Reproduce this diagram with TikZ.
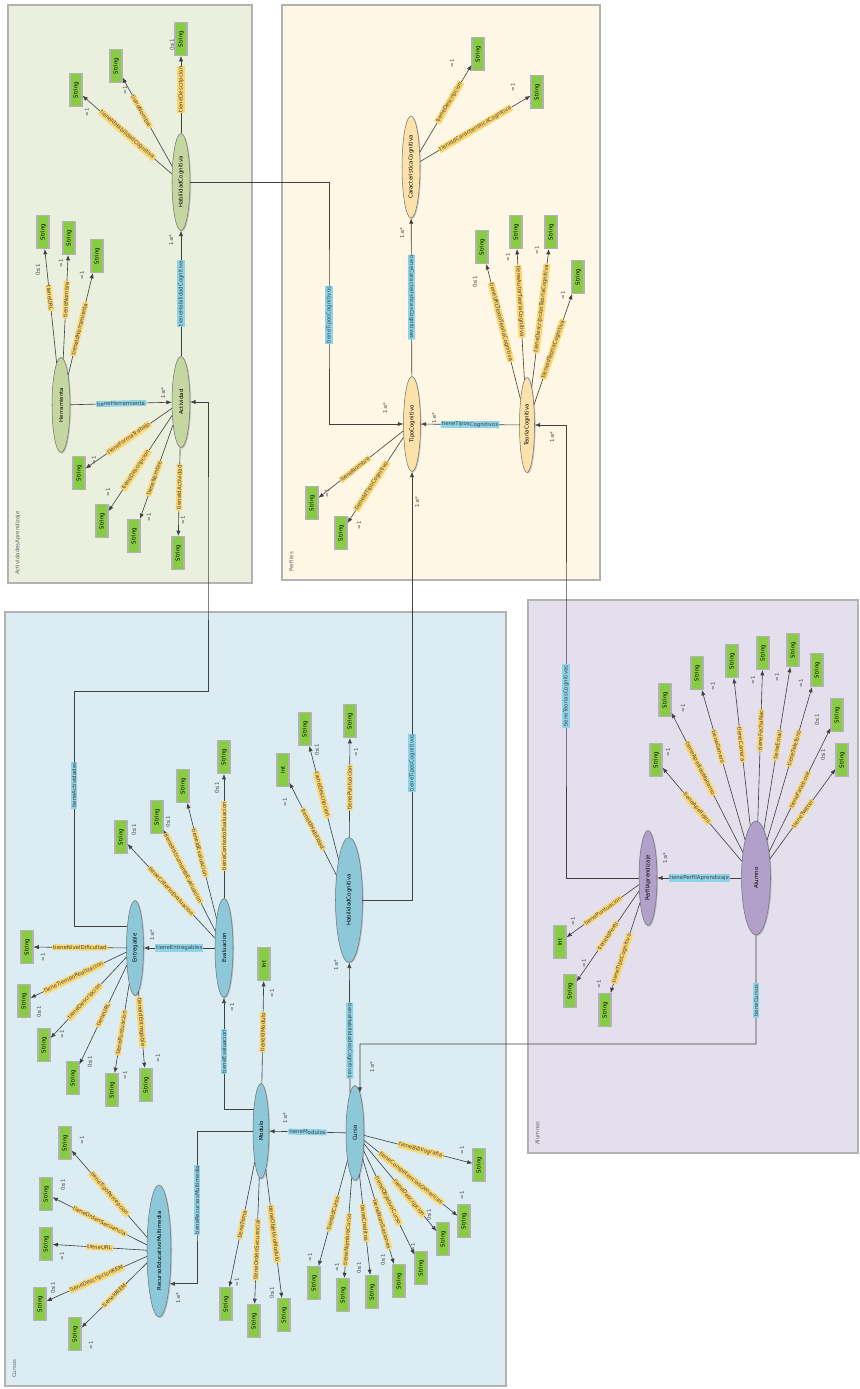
\documentclass[tikz,border=0pt]{standalone}
\usepackage{fontspec}
\setmainfont{DejaVu Sans}
\usetikzlibrary{arrows.meta, positioning, shapes.geometric, shadows}
\definecolor{actbg}{RGB}{234, 239, 222}
\definecolor{perbg}{RGB}{254, 247, 229}
\definecolor{curbg}{RGB}{219, 236, 242}
\definecolor{alubg}{RGB}{228, 223, 236}
\definecolor{actcls}{RGB}{197, 214, 160}
\definecolor{percls}{RGB}{250, 226, 170}
\definecolor{curcls}{RGB}{140, 200, 216}
\definecolor{alucls}{RGB}{176, 160, 202}
\definecolor{dtgreen}{RGB}{136, 204, 68}
\definecolor{propyellow}{RGB}{252, 214, 110}
\definecolor{relblue}{RGB}{142, 212, 232}
\newcommand{\ontofont}{\fontsize{3.1}{3.6}\selectfont}

\begin{document}
\begin{tikzpicture}[
  x=0.02cm, y=-0.02cm,
  region/.style={draw=black!30, line width=0.8pt},
  cls/.style={ellipse, rotate=90, draw=black!55, line width=0.3pt,
               minimum width=1.9cm, minimum height=0.36cm, inner sep=0pt,
               font=\ontofont,
               drop shadow={shadow xshift=0.6pt, shadow yshift=-0.6pt, opacity=0.4}},
  clsA/.style={cls, fill=actcls},
  clsP/.style={cls, fill=percls},
  clsC/.style={cls, fill=curcls},
  clsU/.style={cls, fill=alucls},
  dt/.style={rectangle, rotate=90, fill=dtgreen, draw=black!30, line width=0.6pt,
             minimum width=0.66cm, minimum height=0.24cm, inner sep=0pt,
             font=\ontofont},
  arr/.style={-{Latex[length=3pt, width=2.4pt]}, line width=0.35pt, color=black!75},
  prop/.style={fill=propyellow, font=\ontofont, inner sep=0.5pt, sloped, pos=0.57},
  rel/.style={fill=relblue, font=\ontofont, inner sep=0.5pt},
  card/.style={font=\ontofont, rotate=90, text=black!70, inner sep=0pt},
  area/.style={font=\ontofont, rotate=90, text=black!60, anchor=north west}
]
  \useasboundingbox (0,0) rectangle (859,1389);
  \fill[white] (0,0) rectangle (859,1389);

  % regions
  \filldraw[region, fill=actbg] (8,5) rectangle (252,583);
  \filldraw[region, fill=perbg] (282,5) rectangle (600,580);
  \filldraw[region, fill=alubg] (528,600) rectangle (858,1153);
  \filldraw[region, fill=curbg] (5,612) rectangle (506,1386);
  \node[area] (lblAct) at (9,581)    {ActividadesAprendizaje};
  \node[area] (lblPer) at (283,578)  {Perfiles};
  \node[area] (lblAlu) at (529,1151) {Alumnos};
  \node[area] (lblCur) at (6,1384)   {Cursos};

  % ActividadesAprendizaje
  \node[clsA, minimum width=1.94cm] (habA) at (181,182) {HabilidadCognitiva};
  \node[clsA, minimum width=1.82cm] (act)  at (181,402) {Actividad};
  \node[clsA] (herr) at (61,405) {Herramienta};
  \node[dt] (habA1) at (76,90)   {String};
  \node[dt] (habA2) at (116,66)  {String};
  \node[dt] (habA3) at (181,39)  {String};
  \node[dt] (herr1) at (43,232)  {String};
  \node[dt] (herr2) at (69,238)  {String};
  \node[dt] (herr3) at (97,256)  {String};
  \node[dt] (act1)  at (79,473)  {String};
  \node[dt] (act2)  at (102,521) {String};
  \node[dt] (act3)  at (134,536) {String};
  \node[dt] (act4)  at (178,553) {String};

  % Perfiles
  \node[clsP, minimum width=2.04cm] (carac) at (411,167) {CaracteristicaCognitiva};
  \node[clsP, minimum height=0.34cm] (tipo) at (412,424) {TipoCognitivo};
  \node[clsP, minimum height=0.3cm]  (teo)  at (527,425) {TeoriaCognitiva};
  \node[dt] (carac1) at (478,54)  {String};
  \node[dt] (carac2) at (537,92)  {String};
  \node[dt] (tipo1)  at (312,503) {String};
  \node[dt] (tipo2)  at (341,533) {String};
  \node[dt] (teo1)   at (482,247) {String};
  \node[dt] (teo2)   at (516,232) {String};
  \node[dt] (teo3)   at (551,232) {String};
  \node[dt] (teo4)   at (578,277) {String};

  % Alumnos
  \node[clsU] (perf) at (648,878) {PerfilAprendizaje};
  \node[clsU, minimum width=2.28cm, minimum height=0.58cm] (alu) at (756,878) {Alumno};
  \node[dt] (alu1) at (656,760) {String};
  \node[dt] (alu2) at (665,700) {String};
  \node[dt] (alu3) at (697,673) {String};
  \node[dt] (alu4) at (732,661) {String};
  \node[dt] (alu5) at (763,653) {String};
  \node[dt] (alu6) at (793,650) {String};
  \node[dt] (alu7) at (817,670) {String};
  \node[dt] (alu8) at (837,715) {String};
  \node[dt] (alu9) at (842,760) {String};
  \node[dt] (perf1) at (560,942)  {Int};
  \node[dt] (perf2) at (570,991)  {String};
  \node[dt] (perf3) at (605,1010) {String};

  % Cursos
  \node[clsC] (curso) at (355,1133) {Curso};
  \node[clsC, minimum height=0.32cm] (mod) at (261,1131) {Modulo};
  \node[clsC, minimum width=1.98cm] (eva) at (224,948) {Evaluacion};
  \node[clsC, minimum height=0.34cm] (ent) at (135,948) {Entregable};
  \node[clsC, minimum width=2.5cm, minimum height=0.54cm] (habC) at (349,900) {HabilidadCognitiva};
  \node[clsC, minimum width=2.64cm, minimum height=0.48cm] (rem) at (159,1251) {RecursoEducativoMultimedia};
  \node[dt] (habC1) at (283,770) {Int};
  \node[dt] (habC2) at (305,729) {String};
  \node[dt] (habC3) at (350,721) {String};
  \node[dt] (modI)  at (264,964) {Int};
  \node[dt] (mod1)  at (226,1304) {String};
  \node[dt] (mod2)  at (254,1321) {String};
  \node[dt] (mod3)  at (284,1315) {String};
  \node[dt] (eva1)  at (121,837) {String};
  \node[dt] (eva2)  at (157,817) {String};
  \node[dt] (eva3)  at (183,786) {String};
  \node[dt] (eva4)  at (224,757) {String};
  \node[dt] (ent1)  at (27,947)   {String};
  \node[dt] (ent2)  at (24,1001)  {String};
  \node[dt] (ent3)  at (44,1045)  {String};
  \node[dt] (ent4)  at (73,1078)  {String};
  \node[dt] (ent5)  at (112,1090) {String};
  \node[dt] (ent6)  at (146,1085) {String};
  \node[dt] (rem1)  at (65,1143)  {String};
  \node[dt] (rem2)  at (46,1194)  {String};
  \node[dt] (rem3)  at (46,1244)  {String};
  \node[dt] (rem4)  at (40,1304)  {String};
  \node[dt] (rem5)  at (75,1334)  {String};
  \node[dt] (curso1) at (314,1283) {String};
  \node[dt] (curso2) at (343,1295) {String};
  \node[dt] (curso3) at (372,1292) {String};
  \node[dt] (curso4) at (399,1281) {String};
  \node[dt] (curso5) at (421,1268) {String};
  \node[dt] (curso6) at (443,1239) {String};
  \node[dt] (curso7) at (464,1221) {String};
  \node[dt] (curso8) at (479,1165) {String};

  \coordinate (k1) at (329,315);
  \coordinate (k2) at (74,691);
  \coordinate (k3) at (208,550);
  \coordinate (k4) at (360,1044);
  \coordinate (k5) at (566,696);
  \coordinate (k6) at (197,1200);

  % ActividadesAprendizaje links
  \draw[arr] (habA) -- node[prop, pos=0.5]{tieneIdHabilidadCognitiva} (habA1);
  \draw[arr] (habA) -- node[prop, pos=0.62]{tieneNombre} (habA2);
  \draw[arr] (habA) -- node[prop]{tieneDescripcion} (habA3);
  \draw[arr] (act)  -- node[rel, sloped]{tieneHabilidadCognitiva} (habA);
  \draw[arr] (herr) -- node[rel, sloped]{tieneHerramienta} (act);
  \draw[arr] (herr) -- node[prop]{tieneURL} (herr1);
  \draw[arr] (herr) -- node[prop]{tieneNombre} (herr2);
  \draw[arr] (herr) -- node[prop, pos=0.45]{tieneIdHerramienta} (herr3);
  \draw[arr] (act)  -- node[prop, pos=0.5]{tieneFormaTrabajo} (act1);
  \draw[arr] (act)  -- node[prop]{tieneDescripcion} (act2);
  \draw[arr] (act)  -- node[prop]{tieneNombre} (act3);
  \draw[arr] (act)  -- node[prop, pos=0.45]{tieneIdActividad} (act4);

  % Perfiles links
  \draw[arr] (carac) -- node[prop]{tieneDescripcion} (carac1);
  \draw[arr] (carac) -- node[prop, pos=0.5]{tieneIdCaracteristicaCognitiva} (carac2);
  \draw[arr] (tipo)  -- node[rel, sloped]{tieneCaracteristicasCognitivas} (carac);
  \draw[arr] (habA.south) -| (k1) node[rel, rotate=90]{tieneTiposCognitivos} |- (tipo.north);
  \draw[arr] (teo)   -- node[rel, sloped]{tieneTiposCognitivos} (tipo);
  \draw[arr] (tipo)  -- node[prop]{tieneNombre} (tipo1);
  \draw[arr] (tipo)  -- node[prop]{tieneIdTipoCognitivo} (tipo2);
  \draw[arr] (teo)   -- node[prop]{tieneURLTextoTeoriaCognitiva} (teo1);
  \draw[arr] (teo)   -- node[prop, pos=0.6]{tieneAutorTeoriaCognitiva} (teo2);
  \draw[arr] (teo)   -- node[prop]{tieneDescripcionTeoriaCognitiva} (teo3);
  \draw[arr] (teo)   -- node[prop, pos=0.5]{tieneIdTeoriaCognitiva} (teo4);

  % Alumnos links
  \draw[arr] (alu)  -- node[rel, sloped]{tienePerfilAprendizaje} (perf);
  \draw[arr] (perf.north) -| (k5) node[rel, rotate=90]{tieneTeoriasCognitivas} |- (teo.south);
  \draw[arr] (alu.west) |- node[rel, rotate=90, pos=0.3]{tieneCursos} (k4) -- (curso.-7);
  \draw[arr] (alu)  -- node[prop]{tieneApellidos} (alu1);
  \draw[arr] (alu)  -- node[prop, pos=0.6]{tieneApellidoMaterno} (alu2);
  \draw[arr] (alu)  -- node[prop, pos=0.62]{tieneGenero} (alu3);
  \draw[arr] (alu)  -- node[prop, pos=0.55]{tieneCarrera} (alu4);
  \draw[arr] (alu)  -- node[prop, pos=0.6]{tieneFechaNac} (alu5);
  \draw[arr] (alu)  -- node[prop, pos=0.52]{tieneEmail} (alu6);
  \draw[arr] (alu)  -- node[prop, pos=0.6]{tieneTelefono} (alu7);
  \draw[arr] (alu)  -- node[prop, pos=0.5]{tieneFacebook} (alu8);
  \draw[arr] (alu)  -- node[prop, pos=0.5]{tieneTwitter} (alu9);
  \draw[arr] (perf) -- node[prop, pos=0.5]{tienePuntuacion} (perf1);
  \draw[arr] (perf) -- node[prop, pos=0.5]{tieneIdPerfil} (perf2);
  \draw[arr] (perf) -- node[prop, pos=0.62]{tieneTipoCognitivo} (perf3);

  % Cursos links
  \draw[arr] (curso) -- node[rel, sloped]{tieneModulos} (mod);
  \draw[arr] (curso.7) -- node[rel, sloped, pos=0.4]{tieneHabilidadesCognitivas} (habC);
  \draw[arr] (habC.south) -| node[rel, rotate=90, pos=0.66]{tieneTiposCognitivos} (tipo.west);
  \draw[arr] (mod.19) -| node[rel, rotate=90, pos=0.76]{tieneEvaluacion} (eva.west);
  \draw[arr] (mod.north) -| (k6) node[rel, rotate=90]{tieneRecursosMultimedia} |- (rem.198);
  \draw[arr] (eva) -- node[rel, sloped]{tieneEntregables} (ent);
  \draw[arr] (ent.20) -| node[rel, rotate=90, pos=0.8]{tieneActividades} (k2) -| (k3) |- (act.south);
  \draw[arr] (habC) -- node[prop, pos=0.5]{tieneIdHabilidad} (habC1);
  \draw[arr] (habC) -- node[prop]{tieneDescripcion} (habC2);
  \draw[arr] (habC) -- node[prop, pos=0.5]{tienePuntuacion} (habC3);
  \draw[arr] (mod)  -- node[prop, pos=0.5]{tieneIdModulo} (modI);
  \draw[arr] (mod)  -- node[prop, pos=0.5]{tieneTema} (mod1);
  \draw[arr] (mod)  -- node[prop]{tieneOrdenSecuencial} (mod2);
  \draw[arr] (mod)  -- node[prop, pos=0.5]{tieneObjetivoModulo} (mod3);
  \draw[arr] (eva)  -- node[prop, pos=0.5]{tieneCriterioEvaluacion} (eva1);
  \draw[arr] (eva)  -- node[prop, pos=0.62]{tieneInstrumentoEvaluacion} (eva2);
  \draw[arr] (eva)  -- node[prop]{tieneIdEvaluacion} (eva3);
  \draw[arr] (eva)  -- node[prop, pos=0.5]{tieneContextoEvaluacion} (eva4);
  \draw[arr] (ent)  -- node[prop, pos=0.5]{tieneNivelDificultad} (ent1);
  \draw[arr] (ent)  -- node[prop, pos=0.55]{tieneTiempoRealizacion} (ent2);
  \draw[arr] (ent)  -- node[prop, pos=0.55]{tieneDescripcion} (ent3);
  \draw[arr] (ent)  -- node[prop, pos=0.5]{tieneURL} (ent4);
  \draw[arr] (ent)  -- node[prop, pos=0.55]{tienePuntuacion} (ent5);
  \draw[arr] (ent)  -- node[prop, pos=0.4]{tieneIdEntregable} (ent6);
  \draw[arr] (rem)  -- node[prop, pos=0.5]{tieneTipoPercepcion} (rem1);
  \draw[arr] (rem)  -- node[prop, pos=0.5]{tieneOrdenSecuencia} (rem2);
  \draw[arr] (rem)  -- node[prop, pos=0.5]{tieneURL} (rem3);
  \draw[arr] (rem)  -- node[prop, pos=0.5]{tieneDescripcionREM} (rem4);
  \draw[arr] (rem)  -- node[prop, pos=0.5]{tieneIdREM} (rem5);
  \draw[arr] (curso) -- node[prop, pos=0.5]{tieneIdCurso} (curso1);
  \draw[arr] (curso) -- node[prop, pos=0.62]{tieneNombreCurso} (curso2);
  \draw[arr] (curso) -- node[prop, pos=0.48]{tieneCreditos} (curso3);
  \draw[arr] (curso) -- node[prop, pos=0.62]{tieneNumSesiones} (curso4);
  \draw[arr] (curso) -- node[prop, pos=0.48]{tieneObjetivoCurso} (curso5);
  \draw[arr] (curso) -- node[prop, pos=0.62]{tieneDescripcion} (curso6);
  \draw[arr] (curso) -- node[prop, pos=0.5]{tieneCompetenciasGenericas} (curso7);
  \draw[arr] (curso) -- node[prop, pos=0.52]{tieneBibliografia} (curso8);

  % cardinalities
  \foreach \x/\y/\t [count=\i] in {
      87/112/=1, 125/90/=1, 172/45/0≤1, 171/240/1≤*, 38/270/0≤1, 61/263/=1,
      82/275/=1, 163/393/1≤*, 94/460/=1, 108/492/=1, 149/517/=1, 183/520/=1,
      452/63/=1, 513/87/=1, 402/233/1≤*, 385/408/1≤*, 434/418/1≤*, 552/437/1≤*,
      417/502/1≤*, 327/493/=1, 359/525/=1, 475/282/0≤1, 508/257/=1, 537/250/=1,
      563/295/=1,
      668/752/=1, 683/708/=1, 713/686/=1, 753/680/=1, 777/677/=1, 801/683/=1,
      817/720/0≤1, 823/755/0≤1, 665/858/1≤*, 573/921/=1, 584/963/=1, 599/984/=1,
      372/1067/1≤*, 285/802/=1, 317/750/0≤1, 356/752/=1, 336/965/1≤*, 272/993/=1,
      232/1007/=1, 152/935/1≤*, 285/1118/1≤*, 43/957/=1, 39/1012/0≤1, 62/1034/=1,
      90/1062/0≤1, 125/1075/=1, 158/1058/=1, 134/830/0≤1, 168/822/0≤1, 217/788/0≤1,
      82/1140/=1, 63/1185/0≤1, 62/1256/=1, 53/1288/0≤1, 91/1345/=1, 178/1298/1≤*,
      237/1282/=1, 272/1293/0≤1, 310/1257/=1, 337/1267/=1, 359/1268/0≤1,
      383/1260/0≤1, 413/1247/=1, 429/1215/0≤1, 462/1195/=1, 462/1150/=1}
    \node[card] (card\i) at (\x,\y) {\t};
\end{tikzpicture}
\end{document}
